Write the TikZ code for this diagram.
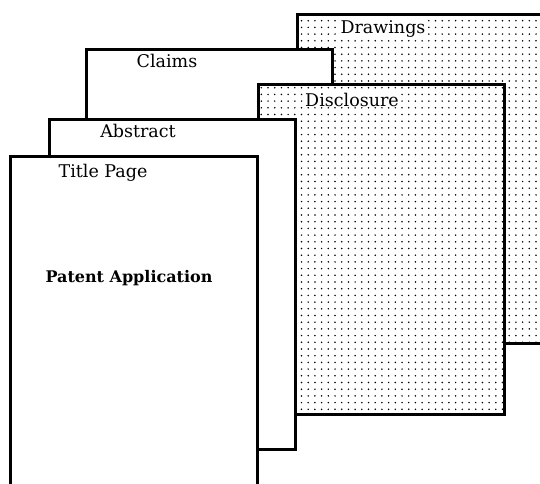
\documentclass[tikz,border=0pt]{standalone}
\usepackage{fontspec}
\setmainfont{DejaVu Serif}
\usetikzlibrary{patterns.meta}
\begin{document}
\begin{tikzpicture}[x=1pt,y=-1pt,
  page/.style={draw=black, line width=3pt, fill=white, rectangle, anchor=north west, inner sep=0pt, outer sep=0pt},
  dotpage/.style={draw=black, line width=3pt, rectangle, anchor=north west, inner sep=0pt, outer sep=0pt,
    preaction={fill=white}, pattern={Dots[distance=6.7pt, radius=0.85pt]}, pattern color=black},
  label/.style={font=\fontsize{17.5}{20}\selectfont, fill=white, inner sep=1pt, anchor=base},
  bold label/.style={font=\fontsize{16}{19}\selectfont\bfseries, inner sep=1pt, anchor=base}
]
\useasboundingbox (0,0) rectangle (540,483);
\clip (0,0) rectangle (540,483);
\node[dotpage, minimum width=263pt, minimum height=329pt] (drawings) at (297,14) {};
\node[page, minimum width=246pt, minimum height=351pt] (claims) at (86,49) {};
\node[dotpage, minimum width=246pt, minimum height=330pt] (disclosure) at (258,84) {};
\node[page, minimum width=246pt, minimum height=330pt] (abstract) at (49,119) {};
\node[page, minimum width=247pt, minimum height=344pt] (title) at (10,156) {};
\node[label] (tdrawings) at (383,33) {Drawings};
\node[label] (tclaims) at (167,67) {Claims};
\node[label] (tdisclosure) at (352,106) {Disclosure};
\node[label] (tabstract) at (138,137) {Abstract};
\node[label] (ttitle) at (103,177) {Title Page};
\node[bold label] (tpatent) at (129,282) {Patent Application};
\end{tikzpicture}
\end{document}
